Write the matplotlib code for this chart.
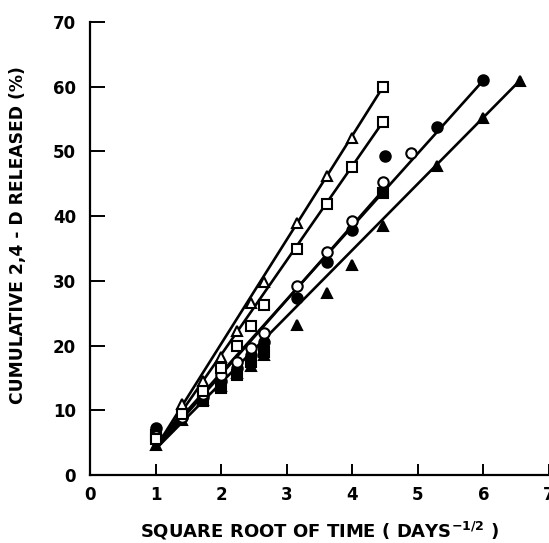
import numpy as np
import matplotlib
matplotlib.use("Agg")
import matplotlib.pyplot as plt

# sqrt(days) sampling points
x_tri_open = [1.41, 1.73, 2.00, 2.24, 2.45, 2.65, 3.16, 3.61, 4.00, 4.47]
y_tri_open = [10.9, 14.5, 18.2, 22.3, 26.6, 29.9, 38.9, 46.2, 52.0, 60.0]

x_sq_open = [1.00, 1.41, 1.73, 2.00, 2.24, 2.45, 2.65, 3.16, 3.61, 4.00, 4.47]
y_sq_open = [5.5, 9.5, 13.0, 16.6, 20.0, 23.0, 26.3, 35.0, 41.9, 47.6, 54.6]

x_circ_open = [1.00, 1.41, 1.73, 2.00, 2.24, 2.45, 2.65, 3.16, 3.61, 4.00, 4.47, 4.90]
y_circ_open = [6.0, 9.0, 12.5, 15.5, 17.5, 19.6, 21.9, 29.2, 34.5, 39.3, 45.2, 49.7]

x_circ_fill = [1.00, 1.41, 1.73, 2.00, 2.24, 2.45, 2.65, 3.16, 3.61, 4.00, 4.50, 5.29, 6.00]
y_circ_fill = [7.2, 9.0, 12.0, 14.5, 16.5, 18.5, 20.5, 27.4, 32.9, 37.8, 49.3, 53.8, 61.0]

x_sq_fill = [1.00, 1.73, 2.00, 2.24, 2.45, 2.65, 4.47]
y_sq_fill = [6.2, 11.5, 13.5, 15.5, 17.5, 19.0, 43.6]

x_tri_fill = [1.00, 1.41, 1.73, 2.00, 2.24, 2.45, 2.65, 3.16, 3.61, 4.00, 4.47, 5.29, 6.00, 6.56]
y_tri_fill = [4.6, 8.5, 11.6, 13.7, 15.7, 16.8, 18.6, 23.2, 28.1, 32.5, 38.5, 47.8, 55.2, 60.9]

# drawn regression lines (start / end)
line_x = [[1.0, 4.47], [1.0, 4.47], [1.0, 6.0], [1.0, 4.47], [1.0, 6.56]]
line_y = [[4.2, 60.0], [4.0, 54.6], [4.5, 61.0], [4.0, 44.0], [4.0, 61.0]]

fig = plt.figure(figsize=(5.49, 5.43), dpi=100)
ax = fig.add_axes([0.164, 0.1252, 0.836, 0.8343])

for lx, ly in zip(line_x, line_y):
    ax.plot(lx, ly, color="black", lw=1.9, solid_capstyle="butt", zorder=2)

ms = 7.5
mew = 1.5
ax.plot(x_tri_fill, y_tri_fill, "^", ms=ms, mfc="black", mec="black", mew=mew, ls="none", zorder=3)
ax.plot(x_sq_fill, y_sq_fill, "s", ms=ms - 1, mfc="black", mec="black", mew=mew, ls="none", zorder=3)
ax.plot(x_circ_fill, y_circ_fill, "o", ms=ms, mfc="black", mec="black", mew=mew, ls="none", zorder=3)
ax.plot(x_circ_open, y_circ_open, "o", ms=ms, mfc="white", mec="black", mew=mew, ls="none", zorder=4)
ax.plot(x_sq_open, y_sq_open, "s", ms=ms - 1, mfc="white", mec="black", mew=mew, ls="none", zorder=4)
ax.plot(x_tri_open[:-1], y_tri_open[:-1], "^", ms=ms, mfc="white", mec="black", mew=mew, ls="none", zorder=4)
# last point of the open triangle run is drawn as a square in the original
ax.plot(x_tri_open[-1:], y_tri_open[-1:], "s", ms=ms - 1, mfc="white", mec="black", mew=mew, ls="none", zorder=4)

ax.set_xlim(0, 7)
ax.set_ylim(0, 70)
ax.set_xticks(range(0, 8))
ax.set_yticks(range(0, 80, 10))
ax.spines["top"].set_visible(False)
ax.spines["right"].set_visible(False)
for s in ["left", "bottom"]:
    ax.spines[s].set_linewidth(1.6)
ax.tick_params(axis="y", direction="in", length=11, width=1.4, pad=10, labelsize=12)
ax.tick_params(axis="x", direction="in", length=8, width=1.4, pad=8, labelsize=12)
for lab in ax.get_xticklabels() + ax.get_yticklabels():
    lab.set_fontweight("bold")

ax.set_xlabel(r"SQUARE ROOT OF TIME ( DAYS$^{\mathbf{-1/2}}$ )", fontsize=13, fontweight="bold", labelpad=11)
ax.set_ylabel("CUMULATIVE 2,4 - D RELEASED (%)", fontsize=12.3, fontweight="bold")
ax.yaxis.set_label_coords(-0.138, 0.53)

fig.savefig("out.png", dpi=100)
